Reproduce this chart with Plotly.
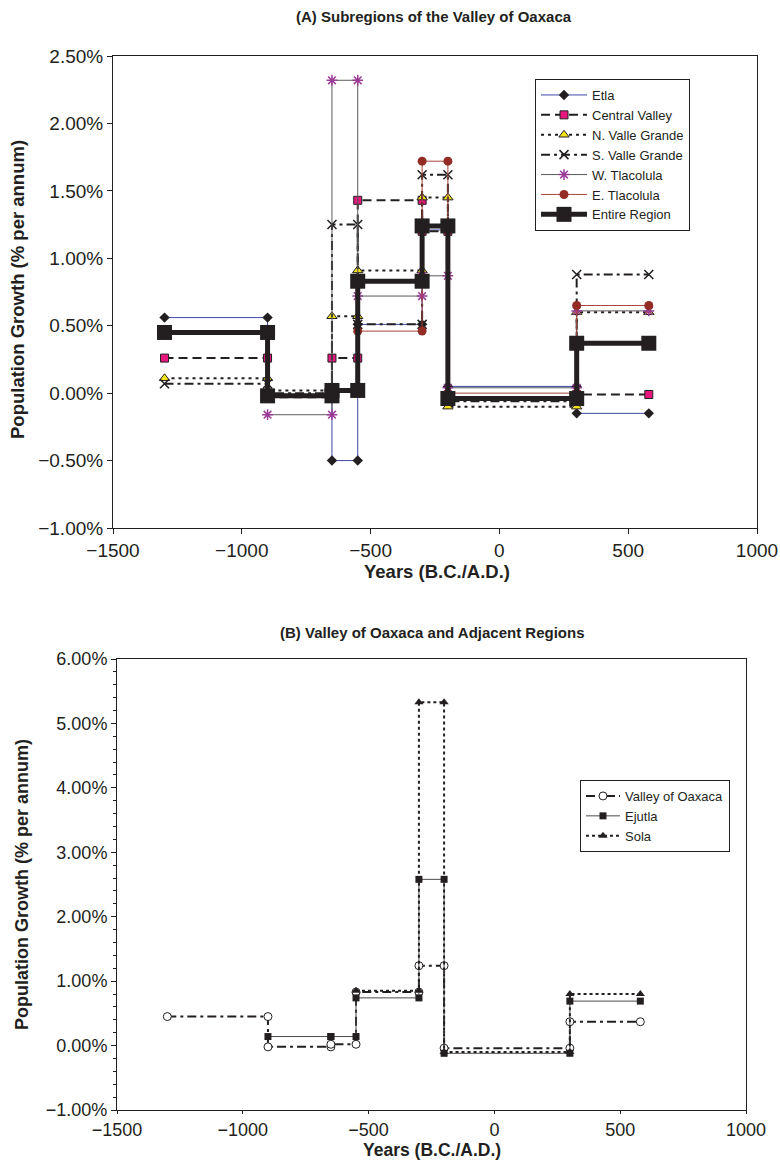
import plotly.graph_objects as go

# Period boundaries (years B.C./A.D.) shared by both panels
period_start = [-1300, -900, -650, -550, -300, -200, 300]
period_end = [-900, -650, -550, -300, -200, 300, 580]

# (A) Growth rates (% per annum) per period; None = no estimate
etla = [0.56, -0.01, -0.50, 0.51, 1.21, 0.05, -0.15]
central_valley = [0.26, -0.03, 0.26, 1.43, 1.20, -0.03, -0.01]
n_valle_grande = [0.11, 0.02, 0.57, 0.91, 1.45, -0.10, 0.60]
s_valle_grande = [0.07, 0.00, 1.25, 0.51, 1.62, -0.06, 0.88]
w_tlacolula = [None, -0.16, 2.32, 0.72, 0.87, 0.04, 0.61]
e_tlacolula = [None, None, None, 0.46, 1.72, 0.00, 0.65]
entire_region = [0.45, -0.02, 0.02, 0.83, 1.24, -0.04, 0.37]

# (B) Growth rates (% per annum) per period
valley_of_oaxaca = [0.45, -0.02, 0.02, 0.83, 1.24, -0.04, 0.37]
ejutla = [None, 0.14, 0.14, 0.74, 2.58, -0.12, 0.69]
sola = [None, None, None, 0.85, 5.33, -0.10, 0.80]

# Axis ticks
x_ticks = [-1500, -1000, -500, 0, 500, 1000]
y_ticks_a = [-1.0, -0.5, 0.0, 0.5, 1.0, 1.5, 2.0, 2.5]
y_ticks_b = [-1.0, 0.0, 1.0, 2.0, 3.0, 4.0, 5.0, 6.0]

W, H = 780, 1161
FONT = "Liberation Sans, Arial, Helvetica, sans-serif"
INK = "#231f20"


def steps(values):
    xs, ys = [], []
    for a, b, v in zip(period_start, period_end, values):
        if v is None:
            continue
        xs += [a, b]
        ys += [v, v]
    return xs, ys


def minus(s):
    return s.replace("-", "\u2212")


def px_x(p):
    return p / W


def px_y(p):
    return 1 - p / H


fig = go.Figure()

series_a = [
    ("Etla", etla, dict(color="#3f48a8", width=1), dict(symbol="diamond", size=8, color=INK)),
    ("Central Valley", central_valley, dict(color=INK, width=2, dash="9px,5px"),
     dict(symbol="square", size=8, color="#e5177d", line=dict(color=INK, width=1))),
    ("N. Valle Grande", n_valle_grande, dict(color=INK, width=2, dash="3px,4px"),
     dict(symbol="triangle-up", size=9, color="#f4e41c", line=dict(color=INK, width=1))),
    ("S. Valle Grande", s_valle_grande, dict(color=INK, width=2, dash="9px,4px,3px,4px"),
     dict(symbol="x-thin-open", size=9, color=INK, line=dict(color=INK, width=1.5))),
    ("W. Tlacolula", w_tlacolula, dict(color="#5a5a5a", width=1),
     dict(symbol="asterisk-open", size=9, color="#9b3c99", line=dict(color="#9b3c99", width=1.5))),
    ("E. Tlacolula", e_tlacolula, dict(color="#a7453c", width=1),
     dict(symbol="circle", size=9, color="#922c25")),
    ("Entire Region", entire_region, dict(color=INK, width=5),
     dict(symbol="square", size=15, color=INK)),
]

for name, vals, line, marker in series_a:
    xs, ys = steps(vals)
    fig.add_trace(go.Scatter(x=xs, y=ys, name=name, mode="lines+markers",
                             line=line, marker=marker, xaxis="x", yaxis="y",
                             legend="legend"))

series_b = [
    ("Valley of Oaxaca", valley_of_oaxaca, dict(color=INK, width=2, dash="9px,4px,3px,4px"),
     dict(symbol="circle", size=8, color="white", line=dict(color=INK, width=1))),
    ("Ejutla", ejutla, dict(color="#4a4a4a", width=1),
     dict(symbol="square", size=7, color=INK)),
    ("Sola", sola, dict(color=INK, width=2, dash="3px,3px"),
     dict(symbol="triangle-up", size=8, color=INK)),
]

for name, vals, line, marker in series_b:
    xs, ys = steps(vals)
    fig.add_trace(go.Scatter(x=xs, y=ys, name=name, mode="lines+markers",
                             line=line, marker=marker, xaxis="x2", yaxis="y2",
                             legend="legend2"))


def axis_style(size, ticklen=5):
    return dict(showgrid=False, zeroline=False, showline=True, linecolor=INK,
                linewidth=1, mirror=True, ticks="outside", ticklen=ticklen,
                tickcolor=INK, tickfont=dict(family=FONT, size=size, color=INK),
                automargin=False)


x_text = [minus(str(v)) for v in x_ticks]

fig.update_layout(
    width=W, height=H,
    margin=dict(l=0, r=0, t=0, b=0),
    paper_bgcolor="white", plot_bgcolor="white",
    font=dict(family=FONT, color=INK),
    xaxis=dict(domain=[px_x(113), px_x(757)], range=[-1500, 1000],
               tickvals=x_ticks, ticktext=x_text, anchor="y", **axis_style(19)),
    yaxis=dict(domain=[px_y(528), px_y(56)], range=[-1.0, 2.5],
               tickvals=y_ticks_a, ticktext=[minus(f"{v:.2f}%") for v in y_ticks_a],
               anchor="x", **axis_style(19)),
    xaxis2=dict(domain=[px_x(117), px_x(746)], range=[-1500, 1000],
                tickvals=x_ticks, ticktext=x_text, anchor="y2", **axis_style(18, 3)),
    yaxis2=dict(domain=[px_y(1110), px_y(659)], range=[-1.0, 6.0],
                tickvals=y_ticks_b, ticktext=[minus(f"{v:.2f}%") for v in y_ticks_b],
                minor=dict(dtick=0.2, ticks="outside", ticklen=3, tickcolor=INK),
                anchor="x2", **axis_style(18)),
    legend=dict(x=px_x(535), y=px_y(79), xanchor="left", yanchor="top",
                bgcolor="white", bordercolor=INK, borderwidth=1, itemwidth=46,
                font=dict(family=FONT, size=13, color=INK), tracegroupgap=0),
    legend2=dict(x=px_x(580), y=px_y(780), xanchor="left", yanchor="top",
                 bgcolor="white", bordercolor=INK, borderwidth=1, itemwidth=34,
                 font=dict(family=FONT, size=13, color=INK), tracegroupgap=0),
    showlegend=True,
)

annotations = [
    ("<b>(A) Subregions of the Valley of Oaxaca</b>", 434, 17, 0, 15),
    ("<b>(B) Valley of Oaxaca and Adjacent Regions</b>", 432, 632, 0, 15),
    ("<b>Years (B.C./A.D.)</b>", 437, 571, 0, 18.5),
    ("<b>Years (B.C./A.D.)</b>", 432, 1150, 0, 17.5),
    ("<b>Population Growth (% per annum)</b>", 17, 290, -90, 18.5),
    ("<b>Population Growth (% per annum)</b>", 22, 885, -90, 18),
]
for text, x, y, ang, size in annotations:
    fig.add_annotation(text=text, x=px_x(x), y=px_y(y), xref="paper", yref="paper",
                       showarrow=False, textangle=ang, xanchor="center", yanchor="middle",
                       font=dict(family=FONT, size=size, color=INK))

fig.write_html("out.html")
